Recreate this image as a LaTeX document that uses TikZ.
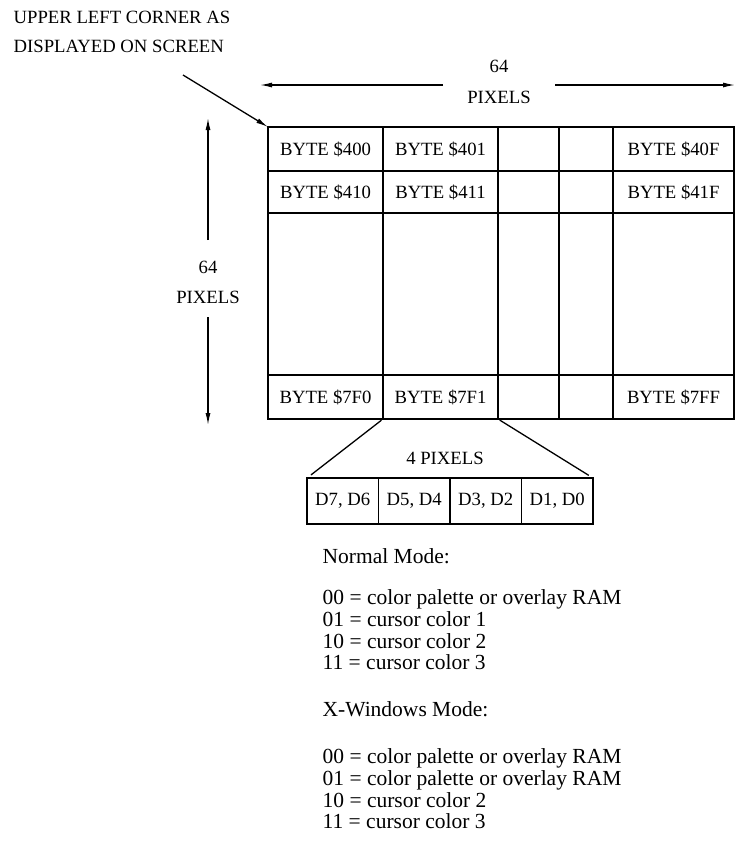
\documentclass[tikz,border=0pt]{standalone}
\usepackage{fontspec}
\setmainfont{Liberation Serif}
\usetikzlibrary{arrows.meta,positioning}

\begin{document}
\begin{tikzpicture}[x=1pt, y=-1pt, line width=1.3pt,
        >={Latex[length=12pt,width=5pt]},
        lbl/.style={font=\fontsize{18.7}{21}\selectfont, inner sep=1pt},
        txt/.style={font=\fontsize{21.5}{21.8}\selectfont, align=left, anchor=north west, inner sep=0pt},
        cell/.style={draw, lbl, inner sep=0pt, outer sep=0pt, anchor=center},
        bitcell/.style={cell, minimum width=71.5, minimum height=46}]
    \useasboundingbox (0,0) rectangle (736,855);

    % caption for the corner arrow
    \node[lbl, anchor=west] (upper) at (12,17) {UPPER LEFT CORNER AS};
    \node[lbl, anchor=west] (disp) at (12,46) {DISPLAYED ON SCREEN};

    % the byte grid, one row per pass
    \foreach \r/\y/\h/\ta/\tb/\te in {1/149/44/BYTE \$400/BYTE \$401/BYTE \$40F,
                                      2/192/42/BYTE \$410/BYTE \$411/BYTE \$41F,
                                      3/294/162///,
                                      4/397/44/BYTE \$7F0/BYTE \$7F1/BYTE \$7FF}{
        \node[cell, minimum width=115, minimum height=\h] (r\r-1) at (325.5,\y) {\ta};
        \node[cell, minimum width=115, minimum height=\h] (r\r-2) at (440.5,\y) {\tb};
        \node[cell, minimum width=61, minimum height=\h] (r\r-3) at (528.5,\y) {};
        \node[cell, minimum width=54, minimum height=\h] (r\r-4) at (586,\y) {};
        \node[cell, minimum width=121, minimum height=\h] (r\r-5) at (673.5,\y) {\te};
    }

    % corner arrow
    \coordinate (cstart) at (183,75);
    \draw[->] (cstart) -- (r1-1.north west);

    % width of the grid
    \node[lbl] (hnum) at (499,66) {64};
    \node[lbl] (hpx) at (499,97) {PIXELS};
    \coordinate (hla) at (443,85);
    \coordinate (hlb) at (260,85);
    \coordinate (hra) at (555,85);
    \coordinate (hrb) at (735,85);
    \draw[->] (hla) -- (hlb);
    \draw[->] (hra) -- (hrb);

    % height of the grid
    \node[lbl] (vnum) at (208,267) {64};
    \node[lbl] (vpx) at (208,297) {PIXELS};
    \coordinate (vta) at (208,240);
    \coordinate (vtb) at (208,118);
    \coordinate (vba) at (208,317);
    \coordinate (vbb) at (208,425);
    \draw[->] (vta) -- (vtb);
    \draw[->] (vba) -- (vbb);

    % one byte opened up
    \node[lbl] (four) at (445,458) {4 PIXELS};
    \node[bitcell] (d1) at (342.75,501) {D7, D6};
    \node[bitcell] (d2) at (414.25,501) {D5, D4};
    \node[bitcell] (d3) at (485.75,501) {D3, D2};
    \node[bitcell] (d4) at (557.25,501) {D1, D0};
    \draw[shorten <=2pt, shorten >=5pt] (r4-2.south west) -- (d1.north west);
    \draw[shorten <=2pt, shorten >=5pt] (r4-2.south east) -- (d4.north east);

    % mode tables
    \node[txt] (normal) at (322,548) {Normal Mode:};
    \node[txt] (normlist) at (322,589) {00 = color palette or overlay RAM\\
        01 = cursor color 1\\10 = cursor color 2\\11 = cursor color 3};
    \node[txt] (xwin) at (322,701) {X-Windows Mode:};
    \node[txt] (xlist) at (322,748) {00 = color palette or overlay RAM\\
        01 = color palette or overlay RAM\\10 = cursor color 2\\11 = cursor color 3};
\end{tikzpicture}
\end{document}
